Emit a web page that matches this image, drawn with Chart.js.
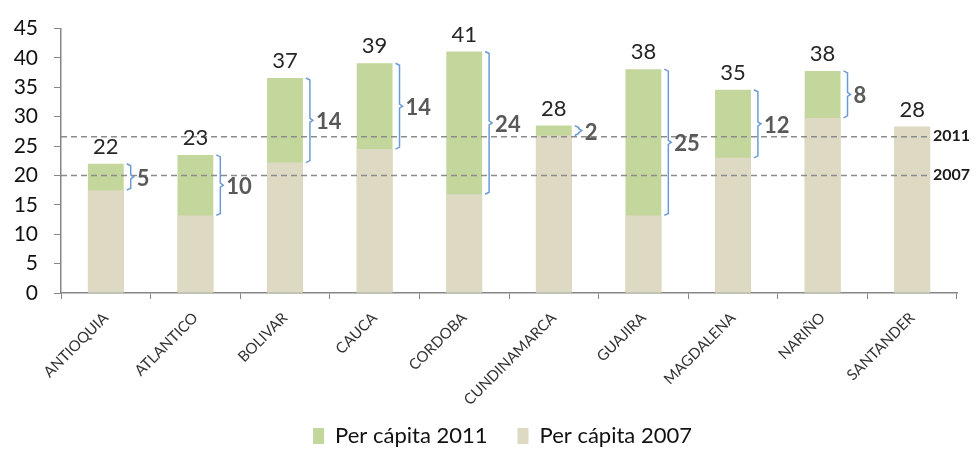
<!DOCTYPE html>
<html>
<head>
<meta charset="utf-8">
<script src="https://cdn.jsdelivr.net/npm/chart.js@4.4.1/dist/chart.umd.min.js"></script>
<style>
  html, body { margin: 0; padding: 0; background: #fff; }
  #wrap { width: 978px; height: 451px; }
</style>
</head>
<body>
<div id="wrap"><canvas id="c"></canvas></div>
<script>
const departamentos = ['ANTIOQUIA', 'ATLANTICO', 'BOLIVAR', 'CAUCA', 'CORDOBA', 'CUNDINAMARCA', 'GUAJIRA', 'MAGDALENA', 'NARIÑO', 'SANTANDER'];
const perCapita2007 = [17.5, 13.2, 22.2, 24.5, 16.8, 26.8, 13.2, 23.0, 29.8, 28.3];
const perCapita2011 = [22.0, 23.5, 36.6, 39.1, 41.1, 28.5, 38.1, 34.6, 37.8, 28.3];
const totalLabels = [22, 23, 37, 39, 41, 28, 38, 35, 38, 28];
const diffLabels = [5, 10, 14, 14, 24, 2, 25, 12, 8, null];
const promedio2011 = 26.6;
const promedio2007 = 20.0;
const yMax = 45, yStep = 5;

const FONT = 'Lato, "Open Sans", sans-serif';

// dashed reference lines, totals on top of bars, blue brackets with the change
const extras = {
  id: 'extras',
  afterLayout(chart) {
    // legend sits a bit right of centre in the original
    if (chart.legend) {
      chart.legend.left += 24;
      chart.legend.right += 24;
    }
    // let the long rotated names run into the legend band instead of being clipped
    chart.scales.x.bottom += 30;
  },
  afterDatasetsDraw(chart) {
    const ctx = chart.ctx;
    const y = chart.scales.y;
    const area = chart.chartArea;
    const bars = chart.getDatasetMeta(0).data;

    ctx.save();
    // promedios
    ctx.strokeStyle = '#8c8c8c';
    ctx.lineWidth = 1.5;
    ctx.setLineDash([6, 4]);
    [promedio2011, promedio2007].forEach(v => {
      const py = y.getPixelForValue(v);
      ctx.beginPath();
      ctx.moveTo(area.left, py);
      ctx.lineTo(area.right - 29, py);
      ctx.stroke();
    });
    ctx.setLineDash([]);
    ctx.fillStyle = '#1a1a1a';
    ctx.font = 'bold 16px ' + FONT;
    ctx.textAlign = 'left';
    ctx.textBaseline = 'middle';
    ctx.fillText('2011', area.right - 24, y.getPixelForValue(promedio2011) - 1);
    ctx.fillText('2007', area.right - 24, y.getPixelForValue(promedio2007) - 1);

    // totales
    ctx.font = '22px ' + FONT;
    ctx.textAlign = 'center';
    ctx.textBaseline = 'bottom';
    ctx.fillStyle = '#262626';
    bars.forEach((b, i) => {
      ctx.fillText(String(totalLabels[i]), b.x, y.getPixelForValue(perCapita2011[i]) - 6);
    });

    // llaves con la diferencia
    ctx.strokeStyle = '#6b9bd6';
    ctx.lineWidth = 1.5;
    ctx.font = 'bold 22px ' + FONT;
    ctx.textAlign = 'left';
    ctx.textBaseline = 'middle';
    bars.forEach((b, i) => {
      if (diffLabels[i] == null) return;
      const top = y.getPixelForValue(perCapita2011[i]);
      const bot = y.getPixelForValue(perCapita2007[i]);
      const bx = b.x + b.width / 2 + 7;
      const mid = (top + bot) / 2;
      ctx.beginPath();
      ctx.moveTo(bx - 4, top);
      ctx.lineTo(bx, top + 2);
      ctx.lineTo(bx, mid - 2);
      ctx.lineTo(bx + 3, mid);
      ctx.lineTo(bx, mid + 2);
      ctx.lineTo(bx, bot - 2);
      ctx.lineTo(bx - 4, bot);
      ctx.stroke();
      ctx.fillStyle = '#595959';
      ctx.fillText(String(diffLabels[i]), bx + 6, mid + 2);
    });
    ctx.restore();
  }
};

new Chart(document.getElementById('c'), {
  type: 'bar',
  data: {
    labels: departamentos,
    datasets: [
      {
        label: 'Per cápita 2011',
        data: perCapita2011,
        backgroundColor: '#c3d69b',
        order: 2
      },
      {
        label: 'Per cápita 2007',
        data: perCapita2007,
        backgroundColor: '#ddd9c3',
        order: 1
      }
    ]
  },
  options: {
    responsive: true,
    maintainAspectRatio: false,
    animation: false,
    grouped: false,
    barPercentage: 0.4,
    categoryPercentage: 1.0,
    layout: { padding: { top: 22, right: 21, left: 0, bottom: -6 } },
    plugins: {
      tooltip: { enabled: false },
      legend: {
        position: 'bottom',
        labels: {
          font: { family: FONT, size: 22 },
          color: '#111',
          boxWidth: 11,
          boxHeight: 16,
          padding: 30,
          sort: (a, b) => a.datasetIndex - b.datasetIndex
        }
      }
    },
    scales: {
      x: {
        grid: { drawOnChartArea: false, tickLength: 6, color: '#868686', offset: true },
        border: { color: '#868686', width: 1.5 },
        ticks: {
          font: { family: FONT, size: 15 },
          color: '#333',
          maxRotation: 45,
          minRotation: 45,
          autoSkip: false,
          padding: 10
        },
        afterFit(scale) {
          const leg = scale.chart.legend ? scale.chart.legend.height : 0;
          scale.height = scale.chart.height - 293 - leg + 6;
        }
      },
      y: {
        min: 0,
        max: yMax,
        grid: { drawOnChartArea: false, tickLength: 7, color: '#868686' },
        border: { color: '#868686', width: 1.5 },
        ticks: {
          stepSize: yStep,
          autoSkip: false,
          font: { family: FONT, size: 21 },
          color: '#111',
          padding: 16
        },
        afterFit(scale) { scale.width = 61; }
      }
    }
  },
  plugins: [extras]
});
</script>
</body>
</html>
